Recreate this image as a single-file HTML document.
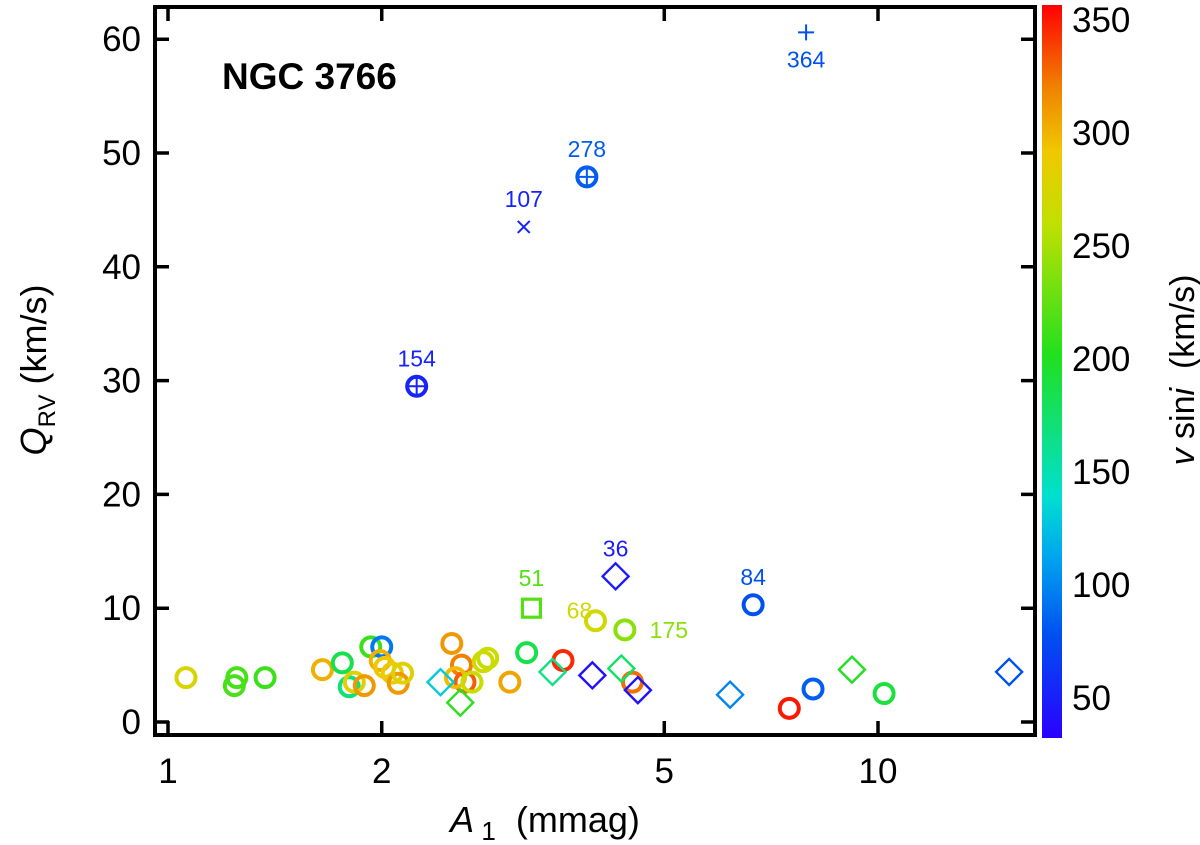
<!DOCTYPE html>
<html><head><meta charset="utf-8"><style>
html,body{margin:0;padding:0;background:#fff;}
svg{display:block;font-family:"Liberation Sans",Arial,sans-serif;}
</style></head><body>
<svg id="chart" width="1200" height="845" viewBox="0 0 1200 845" xmlns="http://www.w3.org/2000/svg">
<defs>
<linearGradient id="cbgrad" x1="0" y1="1" x2="0" y2="0">
<stop offset="0" stop-color="#2a00ff"/>
<stop offset="0.14" stop-color="#0050f0"/>
<stop offset="0.24" stop-color="#00a0f0"/>
<stop offset="0.33" stop-color="#00e0d0"/>
<stop offset="0.52" stop-color="#20e020"/>
<stop offset="0.70" stop-color="#c0e000"/>
<stop offset="0.80" stop-color="#f0c800"/>
<stop offset="0.89" stop-color="#f08000"/>
<stop offset="1" stop-color="#ff0000"/>
</linearGradient>
</defs>
<g id="marks"></g>
<g id="axes"></g>
<text x="222" y="89" font-size="37" font-weight="bold">NGC 3766</text>
<text transform="translate(46,370) rotate(-90)" text-anchor="middle" font-size="36"><tspan font-style="italic">Q</tspan><tspan font-size="24" dy="9">RV</tspan><tspan dy="-9"> (km/s)</tspan></text>
<text x="545" y="832" text-anchor="middle" font-size="36"><tspan font-style="italic">A</tspan><tspan font-size="26" dy="8"> 1</tspan><tspan dy="-8">&#160;&#160;(mmag)</tspan></text>
<rect x="1042" y="5" width="20" height="733" fill="url(#cbgrad)"/>
<text transform="translate(1194,370) rotate(-90)" text-anchor="middle" font-size="34"><tspan font-style="italic">v</tspan> sin<tspan font-style="italic">i</tspan>&#160;&#160;(km/s)</text>
</svg>
<script>
const a1 = [7.92,3.89,3.17,2.24,4.27,6.67,3.25,4.0,4.4,
 1.06,1.25,1.24,1.37,1.65,1.76,1.8,1.93,2.0,1.83,1.89,1.99,2.02,2.07,2.11,2.14,2.51,2.59,2.62,2.54,2.68,2.78,2.82,3.03,3.2,3.6,4.51,
 2.42,2.58,3.48,3.96,4.35,4.59,
 6.19,7.5,8.1,9.19,10.2,15.3];
const qrv = [60.6,47.9,43.5,29.5,12.8,10.3,10.0,8.9,8.1,
 3.9,3.9,3.2,3.9,4.6,5.2,3.1,6.6,6.6,3.5,3.2,5.4,4.8,4.3,3.4,4.3,6.9,5.0,3.5,3.9,3.5,5.3,5.6,3.5,6.1,5.4,3.5,
 3.5,1.7,4.4,4.1,4.7,2.8,
 2.4,1.2,2.9,4.6,2.5,4.4];
const vsini = [80,85,55,55,50,80,220,270,240,
 275,215,215,210,300,185,170,210,95,280,310,300,290,285,310,280,310,320,330,295,265,270,265,305,185,345,325,
 130,205,165,45,175,45,
 100,350,85,200,190,80];
const shapes = ["plus","circplus","cross","circplus","diamond","circle","square","circle","circle",
 "circle","circle","circle","circle","circle","circle","circle","circle","circle","circle","circle","circle","circle","circle","circle","circle","circle","circle","circle","circle","circle","circle","circle","circle","circle","circle","circle",
 "diamond","diamond","diamond","diamond","diamond","diamond",
 "diamond","circle","circle","diamond","circle","diamond"];
const labels = ["364","278","107","154","36","84","51","68","175"];
const labelDx = [0,0,0,0,0,0,0,-16,44];
const labelDy = [35,-20,-20,-20,-20,-20,-22,-2,8];
const xTicks = [1,2,5,10];
const yTicks = [0,10,20,30,40,50,60];
const cbTicks = [50,100,150,200,250,300,350];

const NS="http://www.w3.org/2000/svg";
const L=155,R=1035,T=7,B=735;
const xs=v=>168+710*Math.log10(v);
const ys=v=>722-v*11.38;
const cbY=v=>698-(v-50)*2.26;
const stopV=[35,80,110,140,200,260,290,320,357];
const stopC=[[42,0,255],[0,80,240],[0,160,240],[0,224,208],[32,224,32],[192,224,0],[240,200,0],[240,128,0],[255,0,0]];
function col(v){if(v<=stopV[0])return `rgb(${stopC[0]})`;
 for(let i=1;i<stopV.length;i++){if(v<=stopV[i]){const t=(v-stopV[i-1])/(stopV[i]-stopV[i-1]);
  const c=stopC[i-1].map((a,k)=>Math.round(a+(stopC[i][k]-a)*t));return `rgb(${c})`;}}
 return 'rgb(255,0,0)';}
function mk(tag,attrs,parent){const e=document.createElementNS(NS,tag);for(const k in attrs)e.setAttribute(k,attrs[k]);parent.appendChild(e);return e;}
const marks=document.getElementById('marks'),axes=document.getElementById('axes');
for(let i=0;i<a1.length;i++){
 const x=xs(a1[i]),y=ys(qrv[i]),c=col(vsini[i]),s=shapes[i];
 const g=mk('g',{},marks);
 
 
 if(s==='circle'||s==='circplus'){mk('circle',{cx:x,cy:y,r:9.5,fill:'none',stroke:c,'stroke-width':4},g);}
 if(s==='circplus'){mk('path',{d:`M${x-9} ${y}H${x+9}M${x} ${y-9}V${y+9}`,stroke:c,'stroke-width':2},g);}
 if(s==='diamond'){mk('path',{d:`M${x} ${y-13}L${x+13} ${y}L${x} ${y+13}L${x-13} ${y}Z`,fill:'none',stroke:c,'stroke-width':2.4},g);}
 if(s==='square'){mk('rect',{x:x-9,y:y-9,width:18,height:18,fill:'none',stroke:c,'stroke-width':3.2},g);}
 if(s==='plus'){mk('path',{d:`M${x-8} ${y}H${x+8}M${x} ${y-8}V${y+8}`,stroke:c,'stroke-width':2},g);}
 if(s==='cross'){mk('path',{d:`M${x-6} ${y-6}L${x+6} ${y+6}M${x+6} ${y-6}L${x-6} ${y+6}`,stroke:c,'stroke-width':2},g);}
 if(i<labels.length){const t=mk('text',{x:x+labelDx[i],y:y+labelDy[i],'text-anchor':'middle','font-size':23,fill:c},marks);
  t.textContent=labels[i];
  
  }
}
const frame=mk('rect',{x:L,y:T,width:R-L,height:B-T,fill:'none',stroke:'#000','stroke-width':4},axes);


yTicks.forEach(v=>{const y=ys(v);
 mk('path',{d:`M${L} ${y}H${L+14}M${R} ${y}H${R-14}`,stroke:'#000','stroke-width':3.5},axes);
 const t=mk('text',{x:141,y:y+12,'text-anchor':'end','font-size':35},axes);t.textContent=v;
 
 });
xTicks.forEach(v=>{const x=xs(v);
 mk('path',{d:`M${x} ${B}V${B-14}M${x} ${T}V${T+14}`,stroke:'#000','stroke-width':3.5},axes);
 const t=mk('text',{x:x,y:783,'text-anchor':'middle','font-size':35},axes);t.textContent=v;
 
 });
cbTicks.forEach(v=>{const t=mk('text',{x:1072,y:cbY(v)+12,'font-size':35},axes);t.textContent=v;
 
 });
</script>
</body></html>
